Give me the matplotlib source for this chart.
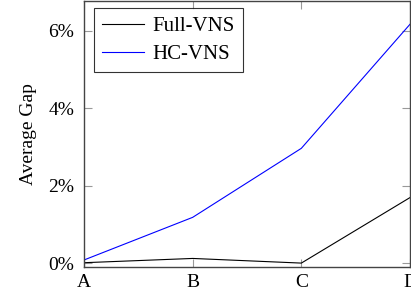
import matplotlib
matplotlib.use("Agg")
import matplotlib.pyplot as plt
from matplotlib.ticker import FuncFormatter

plt.rcParams['font.family'] = ['Liberation Serif', 'DejaVu Serif']

# --- data (average gap in %) ---
instances = ["A", "B", "C", "D"]
full_vns = [0.02, 0.13, 0.01, 1.70]
hc_vns = [0.09, 1.19, 2.97, 6.17]
y_ticks = [0, 2, 4, 6]

fig = plt.figure(figsize=(4.11, 3.0), dpi=100)
ax = fig.add_axes([84 / 411, 33.3 / 300, 326 / 411, 265.7 / 300])

x = list(range(len(instances)))
ax.plot(x, full_vns, color='black', lw=0.8, label="Full-VNS")
ax.plot(x, hc_vns, color='#0000ff', lw=0.8, label="HC-VNS")

ax.set_xlim(0, 3)
ax.set_ylim(-0.083, 6.77)
ax.set_xticks(x)
ax.set_xticklabels(instances)
ax.set_yticks(y_ticks)
ax.yaxis.set_major_formatter(FuncFormatter(lambda v, p: f"{v:.0f}%"))

ax.tick_params(direction='in', length=6, width=0.8, color='#999999',
               top=True, right=True, labelsize=14, pad=7)
ax.tick_params(axis='x', pad=5)
for s in ax.spines.values():
    s.set_color('#444444')
    s.set_linewidth(1.0)

ax.set_ylabel("Average Gap", fontsize=14, labelpad=8)

# legend box roughly matching the pgfplots one
leg = ax.legend(loc='upper left', fontsize=15, frameon=True, fancybox=False,
                edgecolor='black', borderpad=0.4, handlelength=2.0,
                handletextpad=0.4, labelspacing=0.4, borderaxespad=0,
                bbox_to_anchor=(10 / 326, 1 - 7 / 265.7))
leg.get_frame().set_linewidth(0.8)

fig.savefig("out.png", dpi=100)
